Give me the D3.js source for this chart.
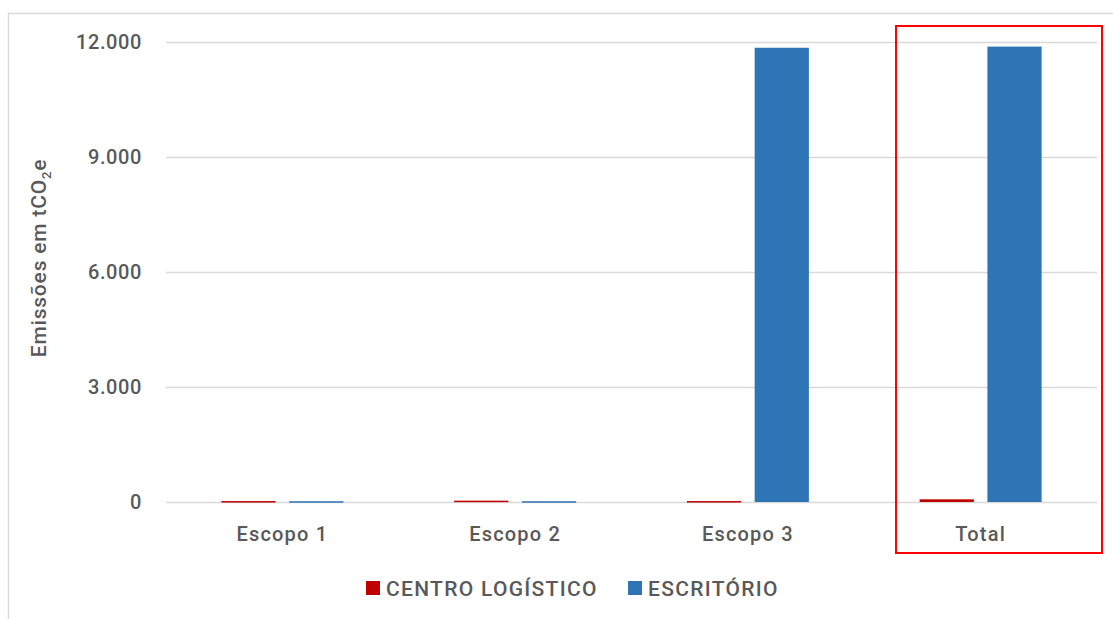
<!DOCTYPE html>
<html>
<head>
<meta charset="utf-8">
<script src="https://cdn.jsdelivr.net/npm/d3@7"></script>
<style>
  body { margin: 0; background: #fff; }
  svg text { font-family: Roboto, "DejaVu Sans", sans-serif; fill: #595959; font-weight: 500; }
</style>
</head>
<body>
<svg id="chart" width="1113" height="619"></svg>
<script>
// data
const categories = ["Escopo 1", "Escopo 2", "Escopo 3", "Total"]
const seriesNames = ["CENTRO LOGÍSTICO", "ESCRITÓRIO"]
const centroValues = [25, 35, 25, 70]
const escritorioValues = [20, 20, 11850, 11880]
const yTicks = [0, 3000, 6000, 9000, 12000]
const colors = ["#C00000", "#2E75B6"]

const svg = d3.select("#chart")
const margin = { top: 42, right: 16, bottom: 117, left: 166 }
const width = 1113 - margin.left - margin.right
const height = 619 - margin.top - margin.bottom

// outer chart frame (only top and left edges visible)
svg.append("path").attr("d", "M8.5,619 V13.5 H1113").attr("fill", "none").attr("stroke", "#d9d9d9").attr("stroke-width", 1.5)

const g = svg.append("g").attr("transform", `translate(${margin.left},${margin.top})`)

const x = d3.scaleBand().domain(categories).range([0, width]).paddingInner(0).paddingOuter(0)
const x1 = d3.scaleBand().domain(seriesNames).range([x.bandwidth() / 2 - 61, x.bandwidth() / 2 + 61]).paddingInner(0.2)
const y = d3.scaleLinear().domain([0, 12000]).range([height, 0])

// gridlines
g.selectAll(".grid").data(yTicks).join("line").attr("class", "grid")
  .attr("x1", 0).attr("x2", width).attr("y1", d => y(d) + 0.5).attr("y2", d => y(d) + 0.5)
  .attr("stroke", "#d9d9d9").attr("stroke-width", 1.5)

// y tick labels
const fmt = d3.formatLocale({ decimal: ",", thousands: ".", grouping: [3], currency: ["", ""] }).format(",d")
g.selectAll(".ytick").data(yTicks).join("text").attr("class", "ytick")
  .attr("x", -24).attr("y", d => y(d)).attr("dy", "0.35em").attr("text-anchor", "end")
  .attr("font-size", 20).attr("letter-spacing", 0.6).text(d => fmt(d))

// bars
const rows = categories.map((c, i) => ({ cat: c, vals: [centroValues[i], escritorioValues[i]] }))
const groups = g.selectAll(".cat").data(rows).join("g").attr("class", "cat")
  .attr("transform", d => `translate(${x(d.cat)},0)`)
groups.selectAll("rect").data(d => d.vals.map((v, i) => ({ name: seriesNames[i], v, i })))
  .join("rect")
  .attr("x", d => x1(d.name)).attr("width", x1.bandwidth())
  .attr("y", d => y(d.v)).attr("height", d => Math.max(1.5, height - y(d.v)))
  .attr("fill", d => colors[d.i])

// x labels
g.selectAll(".xlab").data(categories).join("text").attr("class", "xlab")
  .attr("x", d => x(d) + x.bandwidth() / 2).attr("y", height + 39)
  .attr("text-anchor", "middle").attr("font-size", 20).attr("letter-spacing", 1.2).text(d => d)

// y axis title
const yt = svg.append("text").attr("transform", `translate(46,258) rotate(-90)`)
  .attr("text-anchor", "middle").attr("font-size", 21).attr("letter-spacing", 0.8)
yt.append("tspan").text("Emissões em tCO")
yt.append("tspan").attr("font-size", 13).attr("dy", 5).text("2")
yt.append("tspan").attr("dy", -5).text("e")

// legend
const legendX = [366, 628]
const lg = svg.selectAll(".leg").data(seriesNames).join("g").attr("class", "leg")
  .attr("transform", (d, i) => `translate(${legendX[i]},581)`)
lg.append("rect").attr("width", 14).attr("height", 14).attr("fill", (d, i) => colors[i])
lg.append("text").attr("x", 20).attr("y", 7).attr("dy", "0.36em").attr("font-size", 21).attr("letter-spacing", 1.3).text(d => d)

// red highlight around Total
svg.append("rect").attr("x", 896).attr("y", 26).attr("width", 206).attr("height", 527)
  .attr("fill", "none").attr("stroke", "#FF0000").attr("stroke-width", 2)
</script>
</body>
</html>
